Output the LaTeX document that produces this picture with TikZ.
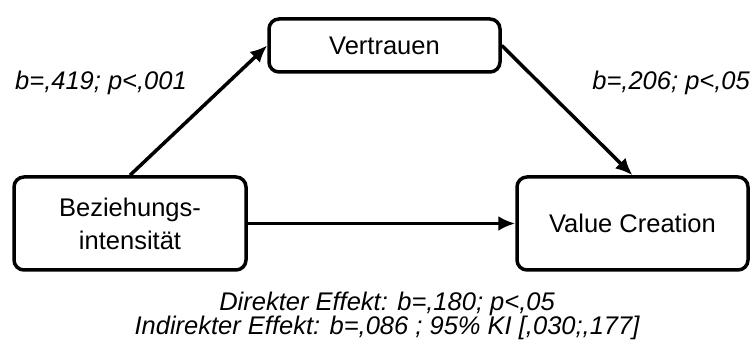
\documentclass[tikz,border=0pt]{standalone}
\usepackage{fontspec}
\setmainfont{Liberation Sans}
\usetikzlibrary{arrows.meta}
\tikzstyle{construct}=[draw, line width=3.5pt, rounded corners=10pt, align=center, font=\fontsize{25.5}{33}\selectfont]
\tikzstyle{coef}=[inner sep=0pt, font=\fontsize{25.5}{25}\selectfont\itshape]
\tikzstyle{effect}=[->, line width=3.5pt]

\begin{document}
\begin{tikzpicture}[>={Latex[length=17pt,width=15pt]}, x=1pt, y=1pt]
    \useasboundingbox (0,0) rectangle (755,347);

    % Constructs
    \draw (384.5,301.5) node[construct, minimum width=231pt, minimum height=53pt] (vert) {Vertrauen};
    \draw (130,123.5) node[construct, minimum width=232pt, minimum height=93pt] (bez) {Beziehungs-\\intensität};
    \draw (632.5,123.5) node[construct, minimum width=231pt, minimum height=93pt] (vc) {Value Creation};

    % Paths
    \draw[effect] (bez.north) -- (vert.west);
    \draw[effect] (vert.east) -- (vc.north);
    \draw[effect] (bez.east) -- (vc.west);

    % Coefficients
    \draw (15,257) node[coef, anchor=base west] (coefa) {b=,419; p<,001};
    \draw (750,257) node[coef, anchor=base east] (coefb) {b=,206; p<,05};
    \draw (387,36) node[coef, anchor=base] (direct) {Direkter Effekt: b=,180; p<,05};
    \draw (387,12) node[coef, anchor=base] (indirect) {Indirekter Effekt: b=,086 ; 95\% KI [,030;,177]};

\end{tikzpicture}
\end{document}
